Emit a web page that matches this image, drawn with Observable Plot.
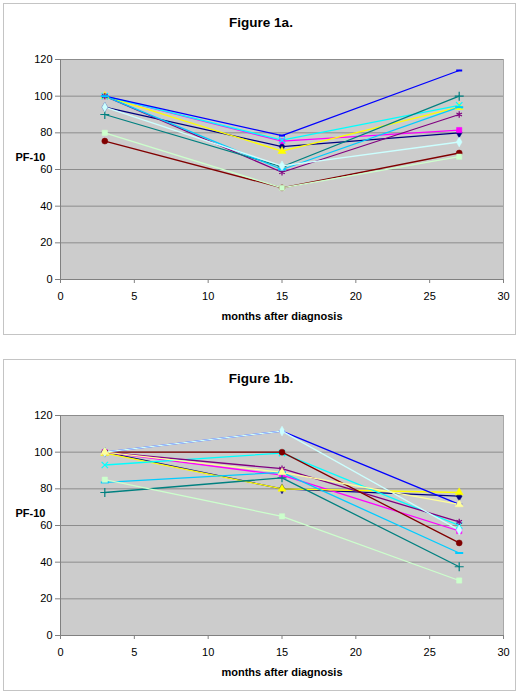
<!DOCTYPE html>
<html>
<head>
<meta charset="utf-8">
<script src="https://cdn.jsdelivr.net/npm/d3@7"></script>
<script src="https://cdn.jsdelivr.net/npm/@observablehq/plot@0.6"></script>
<style>
  html, body { margin: 0; padding: 0; background: #ffffff; }
  #page { position: relative; width: 522px; height: 695px; font-family: "Liberation Sans", Arial, sans-serif; }
  .box { position: absolute; left: 3px; width: 513px; height: 332px; box-sizing: border-box; border: 1px solid #c4c4c4; }
  .title { position: absolute; left: 0; width: 522px; text-align: center; font-weight: bold; font-size: 13.5px; line-height: 16px; color: #000; }
  .chart { position: absolute; left: 0; }
</style>
</head>
<body>
<div id="page"></div>
<script>
// ---- data ----
const months = [3, 15, 27];
const xTicks = [0, 5, 10, 15, 20, 25, 30];
const yTicks = [0, 20, 40, 60, 80, 100, 120];

// Figure 1a: PF-10 per patient at 3, 15, 27 months
const fig1aNavy        = [94, 72.5, 80];
const fig1aMagenta     = [100, 75.5, 81.5];
const fig1aYellow      = [100, 70, 94];
const fig1aCyan        = [100, 76, 95];
const fig1aPurple      = [100, 58.5, 90];
const fig1aDarkRed     = [75.5, 50, 69];
const fig1aTeal        = [90, 61.5, 100];
const fig1aBlue        = [100, 78.5, 114];
const fig1aSkyBlue     = [100, 60, 94];
const fig1aLightTurq   = [94, 62, 75];
const fig1aLightGreen  = [80, 50, 67];

// Figure 1b
const fig1bNavy        = [100, 80, 76];
const fig1bMagenta     = [100, 87.5, 57];
const fig1bYellow      = [99.5, 80, 78];
const fig1bCyan        = [93, 99.5, 60];
const fig1bPurple      = [100, 91, 62];
const fig1bDarkRed     = [100, 100, 50.5];
const fig1bTeal        = [78, 86, 37.5];
const fig1bBlue        = [100, 111.5, 71.5];
const fig1bSkyBlue     = [83.5, 89, 45];
const fig1bLightTurq   = [100, 111.5, 57.5];
const fig1bLightGreen  = [85, 65, 30];
const fig1bLightYellow = [100, 89, 71.5];

// ---- styles ----
const seriesColors  = ["#000080","#ff00ff","#ffff00","#00ffff","#800080","#800000","#008080","#0000ff","#00ccff","#ccffff","#ccffcc","#ffff99"];
const seriesMarkers = ["diamond","square","triangle","times","asterisk","circle","plus","dash","longdash","diamond","square","triangle"];

const fig1a = [fig1aNavy, fig1aMagenta, fig1aYellow, fig1aCyan, fig1aPurple, fig1aDarkRed, fig1aTeal, fig1aBlue, fig1aSkyBlue, fig1aLightTurq, fig1aLightGreen];
const fig1b = [fig1bNavy, fig1bMagenta, fig1bYellow, fig1bCyan, fig1bPurple, fig1bDarkRed, fig1bTeal, fig1bBlue, fig1bSkyBlue, fig1bLightTurq, fig1bLightGreen, fig1bLightYellow];

const dashSym = {draw(ctx, size) { const w = 3; ctx.moveTo(-w, 0); ctx.lineTo(w, 0); }};
const longDashSym = {draw(ctx, size) { const w = 4; ctx.moveTo(-w, 0); ctx.lineTo(w, 0); }};
const strokedSyms = new Set(["times","asterisk","plus","dash","longdash"]);

function makeChart(series) {
  const marks = [
    Plot.frame({fill: "#cccccc", stroke: "#a8a8a8"}),
    Plot.gridY(yTicks, {stroke: "#8c8c8c", strokeOpacity: 1, strokeWidth: 1}),
    Plot.ruleY([0], {stroke: "#808080"}),
    Plot.ruleX([0], {stroke: "#808080"}),
    Plot.axisX({ticks: xTicks, tickSize: 4, tickPadding: 9, stroke: "#808080", fill: "#000", fontSize: 11, label: null, tickFormat: d3.format("d")}),
    Plot.axisY({ticks: yTicks, tickSize: 5, tickPadding: 3, stroke: "#808080", fill: "#000", fontSize: 11, label: null, tickFormat: d3.format("d")}),
    Plot.text(["months after diagnosis"], {frameAnchor: "bottom", lineAnchor: "middle", dy: 37, fontWeight: "bold", fontSize: 11, fill: "#000"}),
    Plot.text(["PF-10"], {frameAnchor: "top-left", lineAnchor: "middle", dx: -45, dy: 98, textAnchor: "start", fontWeight: "bold", fontSize: 11, fill: "#000"})
  ];
  series.forEach((vals, i) => {
    const pts = months.map((m, j) => ({x: m, y: vals[j]}));
    marks.push(Plot.line(pts, {x: "x", y: "y", stroke: seriesColors[i], strokeWidth: 1.3}));
  });
  series.forEach((vals, i) => {
    const pts = months.map((m, j) => ({x: m, y: vals[j]}));
    const m = seriesMarkers[i];
    const sym = m === "dash" ? dashSym : m === "longdash" ? longDashSym : m;
    if (strokedSyms.has(m)) {
      marks.push(Plot.dot(pts, {x: "x", y: "y", symbol: sym, r: 3, fill: "none", stroke: seriesColors[i], strokeWidth: m.includes("dash") ? 2 : 1.2}));
    } else {
      marks.push(Plot.dot(pts, {x: "x", y: "y", symbol: sym, r: 3, fill: seriesColors[i], stroke: seriesColors[i], strokeWidth: 0.5}));
    }
  });
  return Plot.plot({
    width: 522,
    height: 290,
    marginTop: 19,
    marginBottom: 51,
    marginLeft: 60,
    marginRight: 19,
    style: {fontFamily: '"Liberation Sans", Arial, sans-serif', fontSize: "11px", background: "transparent", color: "#000"},
    x: {domain: [0, 30]},
    y: {domain: [0, 120]},
    marks
  });
}

const page = document.getElementById("page");
function addPanel(top, titleText, series) {
  const box = document.createElement("div");
  box.className = "box";
  box.style.top = top + "px";
  page.appendChild(box);
  const t = document.createElement("div");
  t.className = "title";
  t.style.top = (top + 12) + "px";
  t.textContent = titleText;
  page.appendChild(t);
  const wrap = document.createElement("div");
  wrap.className = "chart";
  wrap.style.top = (top + 37) + "px";
  wrap.appendChild(makeChart(series));
  page.appendChild(wrap);
}
addPanel(3, "Figure 1a.", fig1a);
addPanel(359, "Figure 1b.", fig1b);
</script>
</body>
</html>
